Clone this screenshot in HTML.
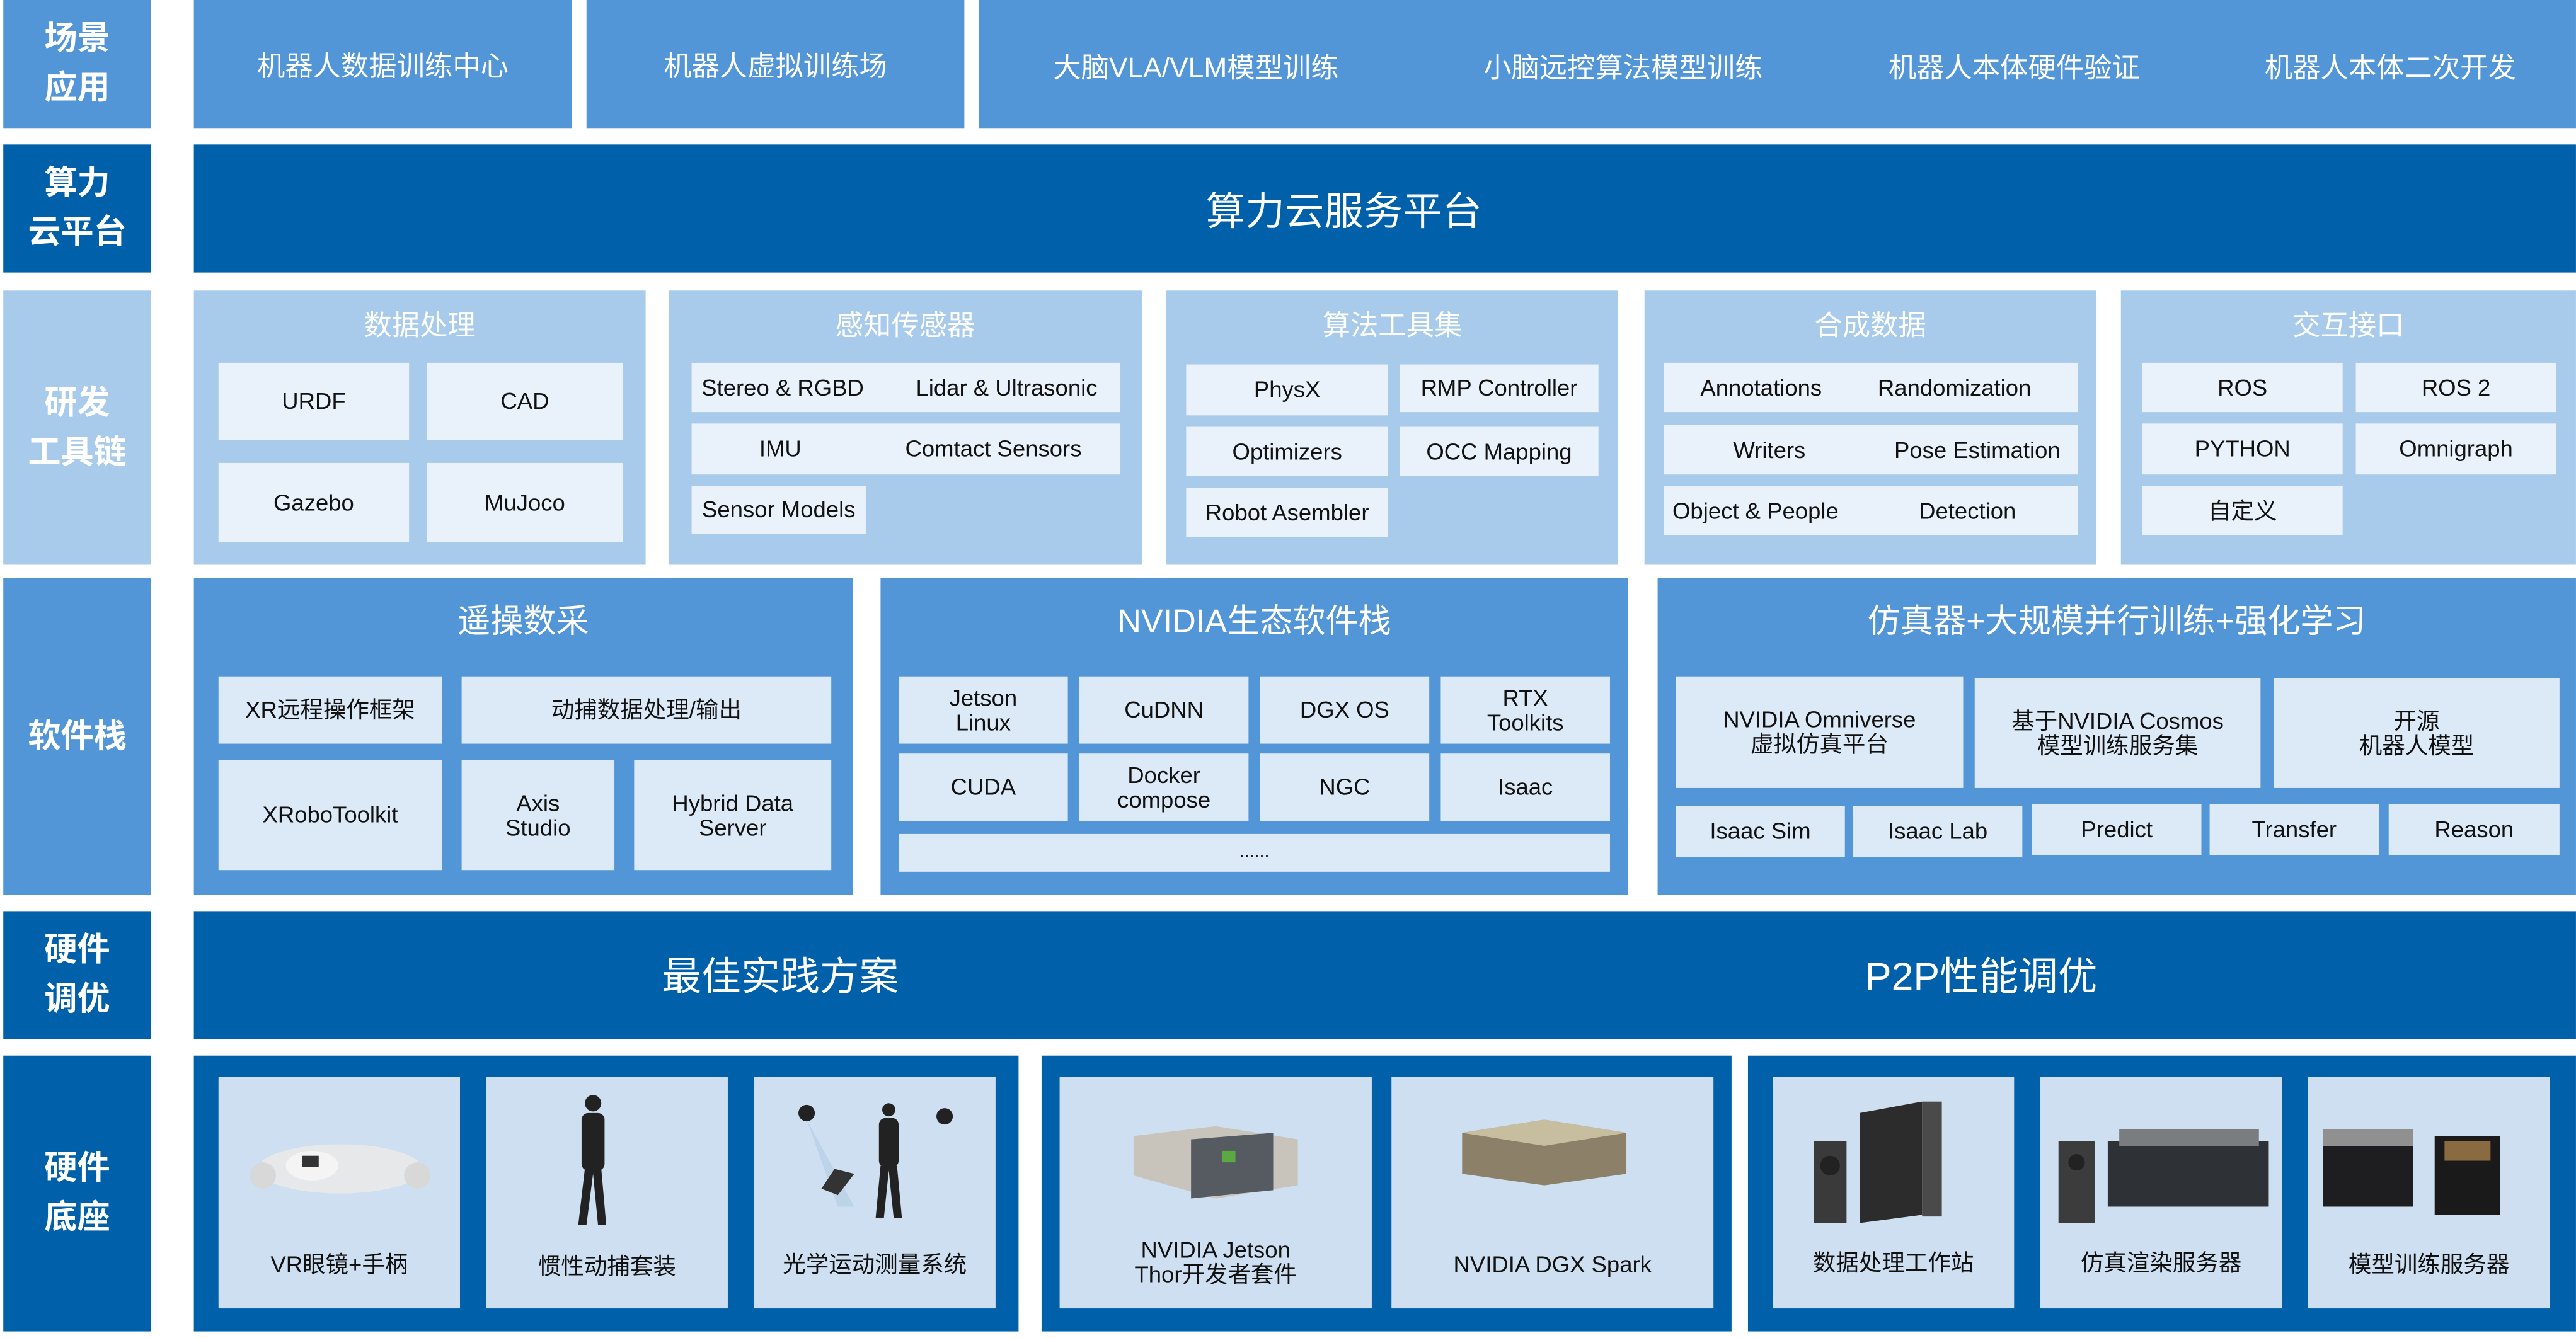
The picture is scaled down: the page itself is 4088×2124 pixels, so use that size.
<!DOCTYPE html>
<html><head><meta charset="utf-8">
<style>
html,body{margin:0;padding:0;background:#fff;overflow:hidden;}
body{width:4088px;height:2124px;}
#s{position:absolute;left:0;top:0;width:1568px;height:815px;transform:scale(2.6071,2.6061);transform-origin:0 0;font-family:"Liberation Sans","Noto Sans CJK SC",sans-serif;}
#s div{position:absolute;box-sizing:border-box;display:flex;align-items:center;justify-content:center;text-align:center;line-height:1.05;}
.m{background:#5296d8;}
.d{background:#0060aa;}
.l{background:#a8cbec;}
.w{color:#fff;}
.lab{color:#fff;font-weight:bold;font-size:20px;line-height:1.5 !important;}
.b1{background:#e9f1fa;color:#111;font-size:14px;}
.b2{background:#dce9f7;color:#111;font-size:14px;}
.b3{background:#cddff0;color:#111;font-size:14px;}
.t{color:#fff;font-size:17px;}
.t2{color:#fff;font-size:20px;}
#s div.j{justify-content:space-between;padding:0 14px 0 6px;}
</style></head><body><div id="s">
<!-- left labels -->
<div class="m lab" style="left:2px;top:0;width:90px;height:78px;">场景<br>应用</div>
<div class="d lab" style="left:2px;top:88px;width:90px;height:78px;">算力<br>云平台</div>
<div class="l lab" style="left:2px;top:177px;width:90px;height:167px;">研发<br>工具链</div>
<div class="m lab" style="left:2px;top:352px;width:90px;height:193px;">软件栈</div>
<div class="d lab" style="left:2px;top:555px;width:90px;height:78px;">硬件<br>调优</div>
<div class="d lab" style="left:2px;top:643px;width:90px;height:168px;">硬件<br>底座</div>

<!-- row1 -->
<div class="m t" style="left:118px;top:0;width:230px;height:78px;padding-top:4px;">机器人数据训练中心</div>
<div class="m t" style="left:357px;top:0;width:230px;height:78px;padding-top:4px;">机器人虚拟训练场</div>
<div class="m" style="left:596px;top:0;width:972px;height:78px;"></div>
<div class="t" style="left:608px;top:3px;width:240px;height:78px;">大脑VLA/VLM模型训练</div>
<div class="t" style="left:868px;top:3px;width:240px;height:78px;">小脑远控算法模型训练</div>
<div class="t" style="left:1106px;top:3px;width:240px;height:78px;">机器人本体硬件验证</div>
<div class="t" style="left:1335px;top:3px;width:240px;height:78px;">机器人本体二次开发</div>

<!-- row2 -->
<div class="d" style="left:118px;top:88px;width:1450px;height:78px;"></div>
<div class="w" style="left:668px;top:91px;width:300px;height:78px;font-size:24px;">算力云服务平台</div>

<!-- row3 -->
<div class="l" style="left:118px;top:177px;width:275px;height:167px;"></div>
<div class="t" style="left:118px;top:187px;width:275px;height:24px;">数据处理</div>
<div class="b1" style="left:133px;top:221px;width:116px;height:47px;">URDF</div>
<div class="b1" style="left:260px;top:221px;width:119px;height:47px;">CAD</div>
<div class="b1" style="left:133px;top:282px;width:116px;height:48px;">Gazebo</div>
<div class="b1" style="left:260px;top:282px;width:119px;height:48px;">MuJoco</div>

<div class="l" style="left:407px;top:177px;width:288px;height:167px;"></div>
<div class="t" style="left:407px;top:187px;width:288px;height:24px;">感知传感器</div>
<div class="b1 j" style="left:421px;top:221px;width:261px;height:30px;"><span>Stereo &amp; RGBD</span><span>Lidar &amp; Ultrasonic</span></div>
<div class="b1" style="left:421px;top:258px;width:261px;height:31px;justify-content:flex-start;"><span style="width:108px;display:inline-block">IMU</span><span style="margin-left:22px">Comtact Sensors</span></div>
<div class="b1" style="left:421px;top:296px;width:106px;height:29px;">Sensor Models</div>

<div class="l" style="left:710px;top:177px;width:275px;height:167px;"></div>
<div class="t" style="left:710px;top:187px;width:275px;height:24px;">算法工具集</div>
<div class="b1" style="left:722px;top:222px;width:123px;height:31px;">PhysX</div>
<div class="b1" style="left:852px;top:222px;width:121px;height:29px;">RMP Controller</div>
<div class="b1" style="left:722px;top:260px;width:123px;height:30px;">Optimizers</div>
<div class="b1" style="left:852px;top:260px;width:121px;height:30px;">OCC Mapping</div>
<div class="b1" style="left:722px;top:297px;width:123px;height:30px;">Robot Asembler</div>

<div class="l" style="left:1001px;top:177px;width:275px;height:167px;"></div>
<div class="t" style="left:1001px;top:187px;width:275px;height:24px;">合成数据</div>
<div class="b1" style="left:1013px;top:221px;width:252px;height:30px;justify-content:flex-start;"><span style="width:118px">Annotations</span><span style="margin-left:12px">Randomization</span></div>
<div class="b1" style="left:1013px;top:259px;width:252px;height:30px;justify-content:flex-start;"><span style="width:128px">Writers</span><span style="margin-left:12px">Pose Estimation</span></div>
<div class="b1" style="left:1013px;top:296px;width:252px;height:30px;justify-content:flex-start;padding-left:5px;"><span style="width:150px;text-align:left">Object &amp; People</span><span>Detection</span></div>

<div class="l" style="left:1291px;top:177px;width:277px;height:167px;"></div>
<div class="t" style="left:1291px;top:187px;width:277px;height:24px;">交互接口</div>
<div class="b1" style="left:1304px;top:221px;width:122px;height:30px;">ROS</div>
<div class="b1" style="left:1434px;top:221px;width:122px;height:30px;">ROS 2</div>
<div class="b1" style="left:1304px;top:258px;width:122px;height:31px;">PYTHON</div>
<div class="b1" style="left:1434px;top:258px;width:122px;height:31px;">Omnigraph</div>
<div class="b1" style="left:1304px;top:296px;width:122px;height:30px;">自定义</div>

<!-- row4 -->
<div class="m" style="left:118px;top:352px;width:401px;height:193px;"></div>
<div class="t2" style="left:118px;top:365px;width:401px;height:28px;">遥操数采</div>
<div class="b2" style="left:133px;top:412px;width:136px;height:41px;">XR远程操作框架</div>
<div class="b2" style="left:281px;top:412px;width:225px;height:41px;">动捕数据处理/输出</div>
<div class="b2" style="left:133px;top:463px;width:136px;height:67px;">XRoboToolkit</div>
<div class="b2" style="left:281px;top:463px;width:93px;height:67px;">Axis<br>Studio</div>
<div class="b2" style="left:386px;top:463px;width:120px;height:67px;">Hybrid Data<br>Server</div>

<div class="m" style="left:536px;top:352px;width:455px;height:193px;"></div>
<div class="t2" style="left:536px;top:365px;width:455px;height:28px;">NVIDIA生态软件栈</div>
<div class="b2" style="left:547px;top:412px;width:103px;height:41px;">Jetson<br>Linux</div>
<div class="b2" style="left:657px;top:412px;width:103px;height:41px;">CuDNN</div>
<div class="b2" style="left:767px;top:412px;width:103px;height:41px;">DGX OS</div>
<div class="b2" style="left:877px;top:412px;width:103px;height:41px;">RTX<br>Toolkits</div>
<div class="b2" style="left:547px;top:459px;width:103px;height:41px;">CUDA</div>
<div class="b2" style="left:657px;top:459px;width:103px;height:41px;">Docker<br>compose</div>
<div class="b2" style="left:767px;top:459px;width:103px;height:41px;">NGC</div>
<div class="b2" style="left:877px;top:459px;width:103px;height:41px;">Isaac</div>
<div class="b2" style="left:547px;top:508px;width:433px;height:23px;font-size:11px;">......</div>

<div class="m" style="left:1009px;top:352px;width:559px;height:193px;"></div>
<div class="t2" style="left:1009px;top:365px;width:559px;height:28px;">仿真器+大规模并行训练+强化学习</div>
<div class="b2" style="left:1020px;top:412px;width:175px;height:68px;">NVIDIA Omniverse<br>虚拟仿真平台</div>
<div class="b2" style="left:1202px;top:413px;width:174px;height:67px;">基于NVIDIA Cosmos<br>模型训练服务集</div>
<div class="b2" style="left:1384px;top:413px;width:174px;height:67px;">开源<br>机器人模型</div>
<div class="b2" style="left:1020px;top:491px;width:103px;height:31px;">Isaac Sim</div>
<div class="b2" style="left:1128px;top:491px;width:103px;height:31px;">Isaac Lab</div>
<div class="b2" style="left:1237px;top:490px;width:103px;height:31px;">Predict</div>
<div class="b2" style="left:1345px;top:490px;width:103px;height:31px;">Transfer</div>
<div class="b2" style="left:1454px;top:490px;width:104px;height:31px;">Reason</div>

<!-- row5 -->
<div class="d" style="left:118px;top:555px;width:1450px;height:78px;"></div>
<div class="w" style="left:325px;top:557px;width:300px;height:78px;font-size:24px;">最佳实践方案</div>
<div class="w" style="left:1056px;top:557px;width:300px;height:78px;font-size:24px;">P2P性能调优</div>

<!-- row6 -->
<div class="d" style="left:118px;top:643px;width:502px;height:168px;"></div>
<div class="d" style="left:634px;top:643px;width:420px;height:168px;"></div>
<div class="d" style="left:1064px;top:643px;width:504px;height:168px;"></div>

<div class="b3" style="left:133px;top:656px;width:147px;height:141px;"></div>
<div class="b3" style="left:296px;top:656px;width:147px;height:141px;"></div>
<div class="b3" style="left:459px;top:656px;width:147px;height:141px;"></div>
<div class="b3" style="left:645px;top:656px;width:190px;height:141px;"></div>
<div class="b3" style="left:847px;top:656px;width:196px;height:141px;"></div>
<div class="b3" style="left:1079px;top:656px;width:147px;height:141px;"></div>
<div class="b3" style="left:1242px;top:656px;width:147px;height:141px;"></div>
<div class="b3" style="left:1405px;top:656px;width:147px;height:141px;"></div>

<svg style="position:absolute;left:0;top:0" width="1568" height="815">
 <ellipse cx="207" cy="712" rx="50" ry="15" fill="#e6e8ea"/>
 <ellipse cx="190" cy="710" rx="16" ry="9" fill="#f4f4f4"/>
 <rect x="184" y="704" width="10" height="7" fill="#333"/>
 <ellipse cx="160" cy="716" rx="8" ry="8" fill="#d8d8d8"/>
 <ellipse cx="254" cy="716" rx="8" ry="8" fill="#d8d8d8"/>
 <circle cx="361" cy="672" r="5" fill="#222"/>
 <rect x="354" y="678" width="14" height="35" rx="4" fill="#222"/>
 <path d="M356 712 L352 746 L357 746 L361 715 L364 746 L369 746 L366 712 Z" fill="#222"/>
 <circle cx="491" cy="678" r="5" fill="#222"/><circle cx="575" cy="680" r="5" fill="#222"/>
 <polygon points="491,682 510,735 520,735" fill="#bcd3e8"/>
 <circle cx="541" cy="676" r="4" fill="#222"/>
 <rect x="535" y="681" width="12" height="30" rx="4" fill="#222"/>
 <path d="M536 710 L533 742 L538 742 L541 713 L544 742 L549 742 L546 710 Z" fill="#222"/>
 <polygon points="508,712 520,715 510,728 500,724" fill="#333"/>
 <polygon points="690,692 740,686 790,694 790,722 740,730 690,716" fill="#c8c4bc"/>
 <polygon points="725,694 775,690 775,725 725,730" fill="#555b60"/>
 <rect x="744" y="701" width="8" height="7" fill="#5aaa40"/>
 <polygon points="890,690 940,682 990,690 990,715 940,722 890,715" fill="#8c8168"/>
 <polygon points="890,690 940,682 990,690 940,698" fill="#c7bd9f"/>
 <rect x="1104" y="695" width="20" height="50" fill="#3a3a3a"/>
 <circle cx="1114" cy="710" r="6" fill="#222"/>
 <polygon points="1132,678 1170,671 1170,740 1132,745" fill="#2c2c2c"/>
 <rect x="1170" y="671" width="12" height="70" fill="#4a4a4a"/>
 <rect x="1253" y="695" width="22" height="50" fill="#3c3c3c"/>
 <circle cx="1264" cy="708" r="5" fill="#222"/>
 <rect x="1283" y="695" width="98" height="40" fill="#2e3136"/>
 <rect x="1290" y="688" width="85" height="10" fill="#7a7d80"/>
 <rect x="1414" y="695" width="55" height="40" fill="#1e1e20"/>
 <rect x="1414" y="688" width="55" height="10" fill="#909090"/>
 <rect x="1482" y="692" width="40" height="48" fill="#1a1a1a"/>
 <rect x="1488" y="695" width="28" height="12" fill="#8a6a40"/>
</svg>

<div style="left:133px;top:760px;width:147px;height:20px;font-size:14px;color:#111;">VR眼镜+手柄</div>
<div style="left:296px;top:760px;width:147px;height:22px;font-size:14px;color:#111;">惯性动捕套装</div>
<div style="left:459px;top:760px;width:147px;height:20px;font-size:14px;color:#111;">光学运动测量系统</div>
<div style="left:645px;top:752px;width:190px;height:34px;font-size:14px;color:#111;">NVIDIA Jetson<br>Thor开发者套件</div>
<div style="left:847px;top:760px;width:196px;height:20px;font-size:14px;color:#111;">NVIDIA DGX Spark</div>
<div style="left:1079px;top:759px;width:147px;height:20px;font-size:14px;color:#111;">数据处理工作站</div>
<div style="left:1242px;top:759px;width:147px;height:20px;font-size:14px;color:#111;">仿真渲染服务器</div>
<div style="left:1405px;top:760px;width:147px;height:20px;font-size:14px;color:#111;">模型训练服务器</div>
</div></body></html>
